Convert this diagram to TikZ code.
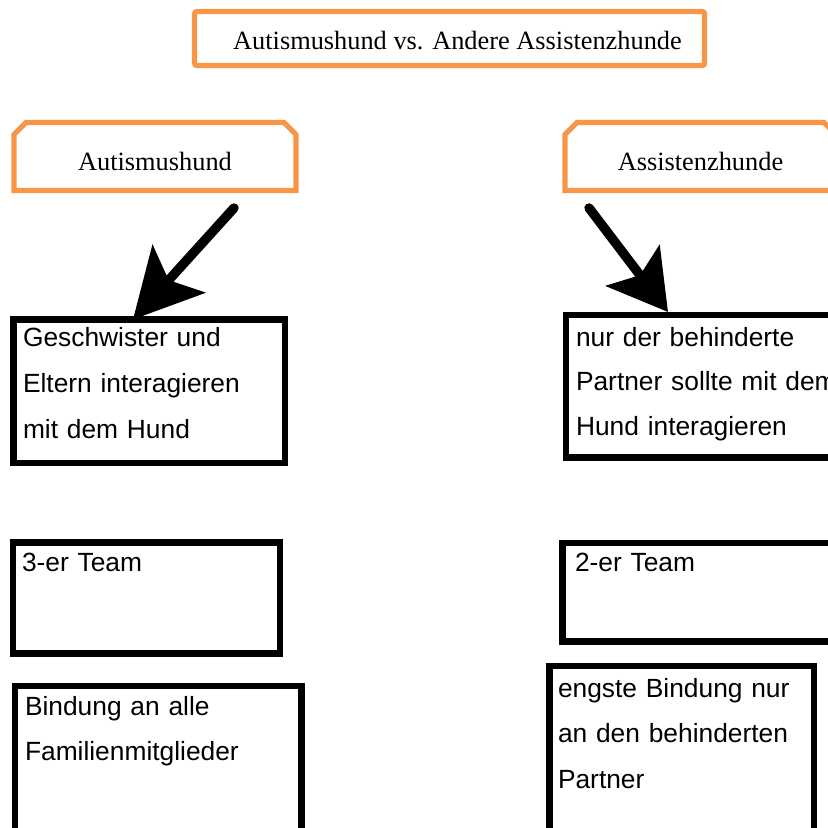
\documentclass[tikz,border=0pt]{standalone}
\usepackage{fontspec}
\setmainfont{Liberation Serif}
\setsansfont{Liberation Sans}
\usetikzlibrary{arrows.meta,shapes.misc}
\definecolor{kasten}{RGB}{247,150,70}
\newdimen\unitpx
\unitpx=0.016cm
\tikzset{
  titel/.style={draw=kasten, line width=2.3pt, rounded corners=1pt, font=\fontsize{12}{14}\selectfont,
    text height=23\unitpx, text depth=0pt},
  kopf/.style={chamfered rectangle, chamfered rectangle corners={north west,north east},
    chamfered rectangle xsep=6\unitpx, chamfered rectangle ysep=6\unitpx,
    draw=kasten, line width=2.3pt, outer sep=0pt, font=\fontsize{12}{14}\selectfont,
    text height=29\unitpx, text depth=0pt},
  feld/.style={draw, line width=3pt, anchor=north west, outer sep=0pt, inner ysep=0pt, align=left},
  pfeil/.style={line width=4.3pt, line cap=round, -{Stealth[length=1.09cm, width=1.13cm, inset=0.24cm]}}
}
\begin{document}
\begin{tikzpicture}[x=\unitpx, y=-\unitpx]
\useasboundingbox (0,0) rectangle (828,828);

% Ueberschrift
\node[titel, minimum width=510\unitpx, minimum height=54\unitpx] (titel) at (449.5,38.5) {\hspace*{16\unitpx}Autismushund vs. Andere Assistenzhunde};
\node[kopf, minimum width=282\unitpx, minimum height=68\unitpx] (autis) at (155,156.5) {Autismushund};
\node[kopf, minimum width=271\unitpx, minimum height=68\unitpx] (assist) at (700.5,156.5) {Assistenzhunde};

% linke Spalte
\node[feld, font=\sffamily\fontsize{12}{20.9}\selectfont, inner xsep=9.5\unitpx, text width=252.5\unitpx,
  text height=27.5\unitpx, text depth=116\unitpx] (geschw) at (13.5,319.5)
  {Geschwister und\\Eltern interagieren\\mit dem Hund};
\node[feld, font=\sffamily\fontsize{12}{20.5}\selectfont, inner xsep=9\unitpx, text width=249\unitpx,
  text height=28.5\unitpx, text depth=82.5\unitpx] (team3) at (13,542.5) {3-er Team};
\node[feld, font=\sffamily\fontsize{12}{20.5}\selectfont, inner xsep=10\unitpx, text width=266.5\unitpx,
  text height=29\unitpx, text depth=155\unitpx] (alle) at (15,686)
  {Bindung an alle\\Familienmitglieder};

% rechte Spalte
\node[feld, font=\sffamily\fontsize{12}{20.3}\selectfont, inner xsep=10\unitpx, text width=264\unitpx,
  text height=31\unitpx, text depth=111.5\unitpx] (nurder) at (566,315)
  {nur der behinderte\\Partner sollte mit dem\\Hund interagieren};
\node[feld, font=\sffamily\fontsize{12}{20.5}\selectfont, inner xsep=12.5\unitpx, text width=262.5\unitpx,
  text height=28\unitpx, text depth=70.5\unitpx] (team2) at (562.5,543) {2-er Team};
\node[feld, font=\sffamily\fontsize{12}{20.8}\selectfont, inner xsep=8.5\unitpx, text width=247.5\unitpx,
  text height=31\unitpx, text depth=173\unitpx] (engste) at (549.5,666)
  {engste Bindung nur\\an den behinderten\\Partner};

% Pfeile
\draw[pfeil] ([shift={(79,17.5)}]autis.south) -- ([shift={(119.5,0)}]geschw.north west);
\draw[pfeil, -{Stealth[length=0.93cm, width=1.07cm, inset=0.19cm]}] ([shift={(-111.5,17.5)}]assist.south) -- ([shift={(102,-3)}]nurder.north west);
\end{tikzpicture}
\end{document}
